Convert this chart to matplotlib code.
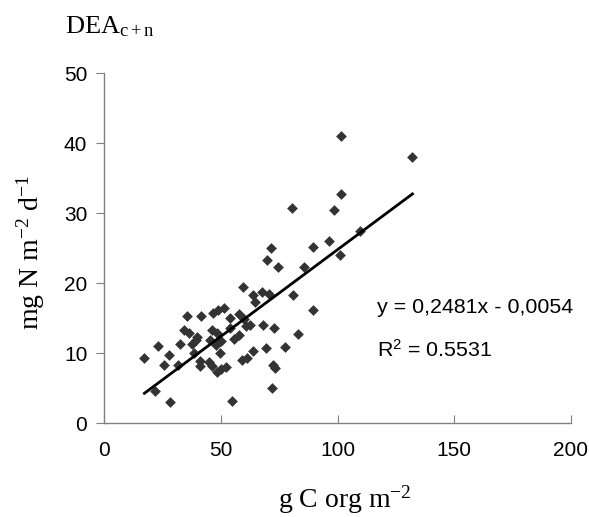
import numpy as np
import matplotlib
matplotlib.use('Agg')
import matplotlib.pyplot as plt

# carbonio organico (g C org m-2) vs DEA c+n (mg N m-2 d-1)
x_c = [101.6, 132.1, 101.6, 80.4, 98.3, 109.5, 96.3, 89.7, 100.9, 71.5,
       69.8, 74.6, 85.6, 59.7, 63.8, 64.5, 67.8, 70.8, 80.8, 89.7,
       35.5, 41.4, 46.8, 48.8, 51.4, 54.0, 57.8, 60.0, 68.2, 72.7, 83.0,
       34.4, 36.3, 39.9, 39.2, 37.8, 32.4, 23.2,
       46.4, 48.2, 45.6, 47.8, 50.0,
       54.0, 55.7, 57.8, 60.7, 62.6,
       77.5, 69.3, 63.6,
       17.3, 27.7, 25.5, 31.7, 38.5, 41.3, 41.0,
       44.9, 46.4, 48.2, 50.3, 52.1, 49.7,
       59.3, 61.2, 73.2, 72.4,
       72.0, 22.0, 28.4, 54.9]
y_dea = [41.0, 38.0, 32.8, 30.7, 30.5, 27.5, 26.1, 25.2, 24.0, 25.0,
         23.4, 22.4, 22.4, 19.5, 18.4, 17.4, 18.8, 18.5, 18.3, 16.2,
         15.3, 15.3, 15.8, 16.2, 16.5, 15.1, 15.6, 14.9, 14.0, 13.6, 12.8,
         13.3, 12.9, 12.4, 11.9, 11.4, 11.4, 11.1,
         13.4, 12.9, 11.9, 11.2, 11.7,
         13.6, 12.1, 12.6, 13.9, 14.0,
         10.9, 10.8, 10.4,
         9.3, 9.8, 8.3, 8.4, 10.0, 8.9, 8.2,
         8.8, 8.2, 7.3, 7.8, 8.1, 10.0,
         9.0, 9.3, 7.9, 8.4,
         5.1, 4.6, 3.0, 3.2]

# retta di regressione riportata sul grafico
SLOPE = 0.2481
INTERCEPT = -0.0054

x_ticks = [0, 50, 100, 150, 200]
y_ticks = [0, 10, 20, 30, 40, 50]

plt.rcParams['mathtext.fontset'] = 'custom'
plt.rcParams['mathtext.rm'] = 'Liberation Serif'
plt.rcParams['mathtext.it'] = 'Liberation Serif:italic'

fig = plt.figure(figsize=(5.89, 5.17), dpi=100)
ax = fig.add_axes([104 / 589, 93.7 / 517, 467 / 589, 350 / 517])

ax.scatter(x_c, y_dea, marker='D', s=30, color='#333333', zorder=3, linewidths=0)

xl = np.array([min(x_c), max(x_c)])
ax.plot(xl, SLOPE * xl + INTERCEPT, color='black', lw=2, zorder=4)

ax.set_xlim(0, 200)
ax.set_ylim(0, 50)
ax.set_xticks(x_ticks)
ax.set_yticks(y_ticks)

for s in ['top', 'right']:
    ax.spines[s].set_visible(False)
for s in ['left', 'bottom']:
    ax.spines[s].set_color('#808080')
    ax.spines[s].set_linewidth(1)

ax.tick_params(axis='x', direction='in', length=6, color='#808080', pad=13,
               labelsize=15)
ax.tick_params(axis='y', direction='out', length=6, color='#808080', pad=6,
               labelsize=15)
for lab in ax.get_xticklabels() + ax.get_yticklabels():
    lab.set_fontfamily('Liberation Sans')

fig.text(377 / 589, 1 - 313 / 517, 'y = 0,2481x - 0,0054', fontsize=15.4,
         family='Liberation Sans', va='baseline', ha='left')
fig.text(377 / 589, 1 - 357 / 517, 'R$^{\\mathregular{2}}$ = 0.5531', fontsize=15.4,
         family='Liberation Sans', va='baseline', ha='left')

fig.text(345 / 589, 1 - 508 / 517, 'g C org m$^{-2}$', fontsize=20,
         family='Liberation Serif', ha='center', va='baseline')
fig.text(31 / 589, 1 - 252 / 517, 'mg N m$^{-2}$ d$^{-1}$', fontsize=20,
         family='Liberation Serif', ha='center', va='center', rotation=90)
fig.text(65 / 589, 1 - 33 / 517, 'DEA$_{\\mathrm{c+n}}$', fontsize=19,
         family='Liberation Serif', ha='left', va='baseline')

fig.savefig('out.png', dpi=100)
